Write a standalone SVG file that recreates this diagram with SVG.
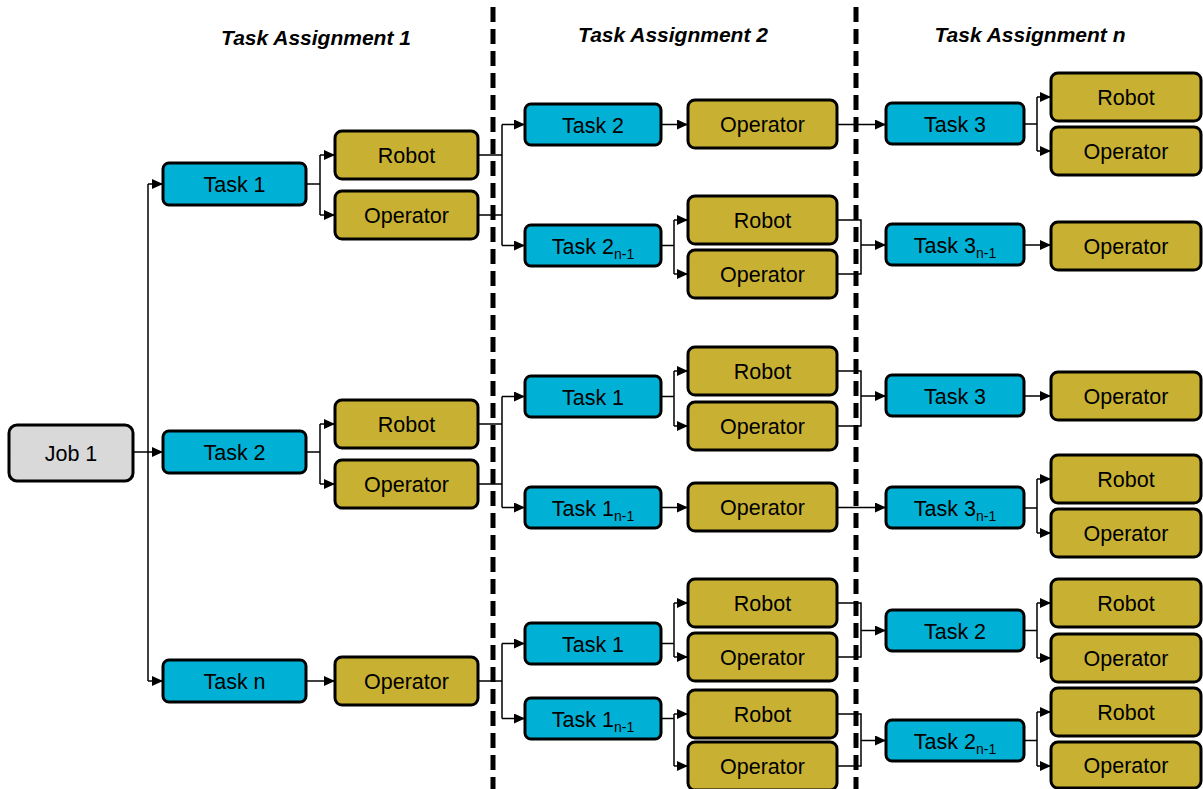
<svg xmlns="http://www.w3.org/2000/svg" width="1203" height="789" viewBox="0 0 1203 789">
<style>
.task{fill:#00b1d5;stroke:#000;stroke-width:3}
.res{fill:#c8b132;stroke:#000;stroke-width:3}
.job{fill:#d9d9d9;stroke:#000;stroke-width:3}
.lbl{font-family:"Liberation Sans",Arial,sans-serif;font-size:21.5px;text-anchor:middle;fill:#000}
.sub{font-size:14px}
.title{font-family:"Liberation Sans",Arial,sans-serif;font-size:21px;font-weight:bold;font-style:italic;text-anchor:middle;fill:#000}
.c{fill:none;stroke:#000;stroke-width:1.5}
.a{fill:none;stroke:#000;stroke-width:1.5;marker-end:url(#arr)}
.dash{stroke:#000;stroke-width:5;stroke-dasharray:15 7}
</style>
<defs>
<marker id="arr" markerUnits="userSpaceOnUse" markerWidth="11" markerHeight="10" refX="11" refY="5" orient="auto">
<path d="M0,0 L11,5 L0,10 z" fill="#000"/>
</marker>
</defs>
<rect width="1203" height="789" fill="#fff"/>

<g id="titles">
<text class="title" x="316" y="45">Task Assignment 1</text>
<text class="title" x="673" y="42">Task Assignment 2</text>
<text class="title" x="1030" y="42">Task Assignment n</text>
</g>

<g id="connectors">
<path class="a" d="M133,452 H163"/>
<path class="c" d="M148,184 V681"/>
<path class="a" d="M148,184 H163"/>
<path class="a" d="M148,681 H163"/>

<path class="c" d="M306,184 H320 M320,155 V215"/>
<path class="a" d="M320,155 H335"/>
<path class="a" d="M320,215 H335"/>
<path class="c" d="M306,452 H320 M320,424 V484"/>
<path class="a" d="M320,424 H335"/>
<path class="a" d="M320,484 H335"/>
<path class="a" d="M306,681 H335"/>

<path class="c" d="M478,155 H502 M478,215 H502 M502,124.5 V245.5"/>
<path class="a" d="M502,124.5 H525"/>
<path class="a" d="M502,245.5 H525"/>
<path class="c" d="M478,424 H502 M478,484 H502 M502,396.5 V507.5"/>
<path class="a" d="M502,396.5 H525"/>
<path class="a" d="M502,507.5 H525"/>
<path class="c" d="M478,681 H502 M502,643.5 V718.5"/>
<path class="a" d="M502,643.5 H525"/>
<path class="a" d="M502,718.5 H525"/>

<path class="a" d="M661,124.5 H688"/>
<path class="c" d="M661,245.5 H674 M674,220 V274"/>
<path class="a" d="M674,220 H688"/>
<path class="a" d="M674,274 H688"/>
<path class="c" d="M661,396.5 H674 M674,371 V426"/>
<path class="a" d="M674,371 H688"/>
<path class="a" d="M674,426 H688"/>
<path class="a" d="M661,507.5 H688"/>
<path class="c" d="M661,643.5 H674 M674,603 V657"/>
<path class="a" d="M674,603 H688"/>
<path class="a" d="M674,657 H688"/>
<path class="c" d="M661,718.5 H674 M674,714 V766"/>
<path class="a" d="M674,714 H688"/>
<path class="a" d="M674,766 H688"/>

<path class="a" d="M837,124.5 H886"/>
<path class="c" d="M837,220 H861 V274 H837"/>
<path class="a" d="M861,245 H886"/>
<path class="c" d="M837,371 H861 V426 H837"/>
<path class="a" d="M861,396 H886"/>
<path class="a" d="M837,507.5 H886"/>
<path class="c" d="M837,603 H861 V657 H837"/>
<path class="a" d="M861,630.5 H886"/>
<path class="c" d="M837,714 H861 V766 H837"/>
<path class="a" d="M861,740.5 H886"/>

<path class="c" d="M1024,124 H1037 M1037,97 V151"/>
<path class="a" d="M1037,97 H1051"/>
<path class="a" d="M1037,151 H1051"/>
<path class="a" d="M1024,245 H1051"/>
<path class="a" d="M1024,396 H1051"/>
<path class="c" d="M1024,508 H1037 M1037,479 V533"/>
<path class="a" d="M1037,479 H1051"/>
<path class="a" d="M1037,533 H1051"/>
<path class="c" d="M1024,630.5 H1037 M1037,603 V658"/>
<path class="a" d="M1037,603 H1051"/>
<path class="a" d="M1037,658 H1051"/>
<path class="c" d="M1024,740.5 H1037 M1037,712 V766"/>
<path class="a" d="M1037,712 H1051"/>
<path class="a" d="M1037,766 H1051"/>
</g>

<g id="dividers">
<line class="dash" x1="493" y1="7" x2="493" y2="789"/>
<line class="dash" x1="856" y1="7" x2="856" y2="789"/>
</g>

<g id="job1"><rect class="job" x="9" y="425" width="124" height="56" rx="8"/><text class="lbl" x="71" y="461">Job 1</text></g>

<g id="c1-task1"><rect class="task" x="163" y="163" width="143" height="42" rx="6"/><text class="lbl" x="234.5" y="192">Task 1</text></g>
<g id="c1-task2"><rect class="task" x="163" y="431" width="143" height="42" rx="6"/><text class="lbl" x="234.5" y="460">Task 2</text></g>
<g id="c1-taskn"><rect class="task" x="163" y="660" width="143" height="42" rx="6"/><text class="lbl" x="234.5" y="689">Task n</text></g>

<g id="c1-robot1"><rect class="res" x="335" y="131" width="143" height="48" rx="7"/><text class="lbl" x="406.5" y="163">Robot</text></g>
<g id="c1-oper1"><rect class="res" x="335" y="191" width="143" height="48" rx="7"/><text class="lbl" x="406.5" y="223">Operator</text></g>
<g id="c1-robot2"><rect class="res" x="335" y="400" width="143" height="48" rx="7"/><text class="lbl" x="406.5" y="432">Robot</text></g>
<g id="c1-oper2"><rect class="res" x="335" y="460" width="143" height="48" rx="7"/><text class="lbl" x="406.5" y="492">Operator</text></g>
<g id="c1-oper3"><rect class="res" x="335" y="657" width="143" height="48" rx="7"/><text class="lbl" x="406.5" y="689">Operator</text></g>

<g id="c2-task2"><rect class="task" x="525" y="104" width="136" height="41" rx="6"/><text class="lbl" x="593" y="132.5">Task 2</text></g>
<g id="c2-task2n"><rect class="task" x="525" y="225" width="136" height="41" rx="6"/><text class="lbl" x="593" y="253.5">Task 2<tspan class="sub" dy="5">n-1</tspan></text></g>
<g id="c2-task1a"><rect class="task" x="525" y="376" width="136" height="41" rx="6"/><text class="lbl" x="593" y="404.5">Task 1</text></g>
<g id="c2-task1an"><rect class="task" x="525" y="487" width="136" height="41" rx="6"/><text class="lbl" x="593" y="515.5">Task 1<tspan class="sub" dy="5">n-1</tspan></text></g>
<g id="c2-task1b"><rect class="task" x="525" y="623" width="136" height="41" rx="6"/><text class="lbl" x="593" y="651.5">Task 1</text></g>
<g id="c2-task1bn"><rect class="task" x="525" y="698" width="136" height="41" rx="6"/><text class="lbl" x="593" y="726.5">Task 1<tspan class="sub" dy="5">n-1</tspan></text></g>

<g id="c2-oper1"><rect class="res" x="688" y="100" width="149" height="48" rx="7"/><text class="lbl" x="762.5" y="132">Operator</text></g>
<g id="c2-robot2"><rect class="res" x="688" y="196" width="149" height="48" rx="7"/><text class="lbl" x="762.5" y="228">Robot</text></g>
<g id="c2-oper2"><rect class="res" x="688" y="250" width="149" height="48" rx="7"/><text class="lbl" x="762.5" y="282">Operator</text></g>
<g id="c2-robot3"><rect class="res" x="688" y="347" width="149" height="48" rx="7"/><text class="lbl" x="762.5" y="379">Robot</text></g>
<g id="c2-oper3"><rect class="res" x="688" y="402" width="149" height="48" rx="7"/><text class="lbl" x="762.5" y="434">Operator</text></g>
<g id="c2-oper4"><rect class="res" x="688" y="483" width="149" height="48" rx="7"/><text class="lbl" x="762.5" y="515">Operator</text></g>
<g id="c2-robot5"><rect class="res" x="688" y="579" width="149" height="48" rx="7"/><text class="lbl" x="762.5" y="611">Robot</text></g>
<g id="c2-oper5"><rect class="res" x="688" y="633" width="149" height="48" rx="7"/><text class="lbl" x="762.5" y="665">Operator</text></g>
<g id="c2-robot6"><rect class="res" x="688" y="690" width="149" height="48" rx="7"/><text class="lbl" x="762.5" y="722">Robot</text></g>
<g id="c2-oper6"><rect class="res" x="688" y="742" width="149" height="48" rx="7"/><text class="lbl" x="762.5" y="774">Operator</text></g>

<g id="c3-task3a"><rect class="task" x="886" y="103" width="138" height="41" rx="6"/><text class="lbl" x="955" y="131.5">Task 3</text></g>
<g id="c3-task3an"><rect class="task" x="886" y="224" width="138" height="41" rx="6"/><text class="lbl" x="955" y="252.5">Task 3<tspan class="sub" dy="5">n-1</tspan></text></g>
<g id="c3-task3b"><rect class="task" x="886" y="375" width="138" height="41" rx="6"/><text class="lbl" x="955" y="403.5">Task 3</text></g>
<g id="c3-task3bn"><rect class="task" x="886" y="487" width="138" height="41" rx="6"/><text class="lbl" x="955" y="515.5">Task 3<tspan class="sub" dy="5">n-1</tspan></text></g>
<g id="c3-task2"><rect class="task" x="886" y="610" width="138" height="41" rx="6"/><text class="lbl" x="955" y="638.5">Task 2</text></g>
<g id="c3-task2n"><rect class="task" x="886" y="720" width="138" height="41" rx="6"/><text class="lbl" x="955" y="748.5">Task 2<tspan class="sub" dy="5">n-1</tspan></text></g>

<g id="c3-robot1"><rect class="res" x="1051" y="73" width="150" height="48" rx="7"/><text class="lbl" x="1126" y="105">Robot</text></g>
<g id="c3-oper1"><rect class="res" x="1051" y="127" width="150" height="48" rx="7"/><text class="lbl" x="1126" y="159">Operator</text></g>
<g id="c3-oper2"><rect class="res" x="1051" y="222" width="150" height="48" rx="7"/><text class="lbl" x="1126" y="254">Operator</text></g>
<g id="c3-oper3"><rect class="res" x="1051" y="372" width="150" height="48" rx="7"/><text class="lbl" x="1126" y="404">Operator</text></g>
<g id="c3-robot4"><rect class="res" x="1051" y="455" width="150" height="48" rx="7"/><text class="lbl" x="1126" y="487">Robot</text></g>
<g id="c3-oper4"><rect class="res" x="1051" y="509" width="150" height="48" rx="7"/><text class="lbl" x="1126" y="541">Operator</text></g>
<g id="c3-robot5"><rect class="res" x="1051" y="579" width="150" height="48" rx="7"/><text class="lbl" x="1126" y="611">Robot</text></g>
<g id="c3-oper5"><rect class="res" x="1051" y="634" width="150" height="48" rx="7"/><text class="lbl" x="1126" y="666">Operator</text></g>
<g id="c3-robot6"><rect class="res" x="1051" y="688" width="150" height="48" rx="7"/><text class="lbl" x="1126" y="720">Robot</text></g>
<g id="c3-oper6"><rect class="res" x="1051" y="742" width="150" height="46" rx="7"/><text class="lbl" x="1126" y="773">Operator</text></g>
</svg>
